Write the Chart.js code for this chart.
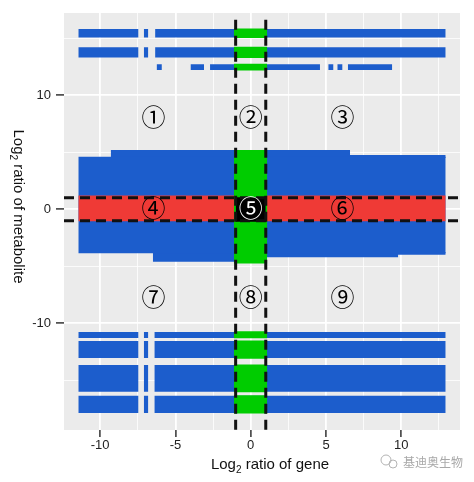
<!DOCTYPE html>
<html>
<head>
<meta charset="utf-8">
<script src="https://cdn.jsdelivr.net/npm/chart.js@4.4.0/dist/chart.umd.min.js"></script>
<style>
  html, body { margin: 0; padding: 0; background: #fff; }
</style>
</head>
<body>
<canvas id="grafico" width="474" height="482"></canvas>
<script>
// nove quadrantes: log2 gene (x) vs log2 metabolito (y)
const eixoX = [-12.4, 13.9]
const eixoY = [-19.35, 17.2]
const ticksX = [-10, -5, 0, 5, 10]
const ticksY = [-10, 0, 10]
const corteX = [-1, 1]
const corteY = [-1, 1]

// faixas de pontos: [xDe, xAte, yBaixo, yCima]
const azulTopo = [
  [-11.45, -7.45, 15.05, 15.8], [-7.1, -6.8, 15.05, 15.8], [-6.35, 12.95, 15.05, 15.8],
  [-11.45, -7.45, 13.3, 14.2], [-7.1, -6.8, 13.3, 14.2], [-6.35, 12.95, 13.3, 14.2],
  [-6.25, -5.9, 12.2, 12.7], [-4.0, -3.1, 12.2, 12.7], [-2.7, 4.6, 12.2, 12.7],
  [5.15, 5.5, 12.2, 12.7], [5.75, 6.1, 12.2, 12.7], [6.45, 9.4, 12.2, 12.7]
]
// bloco do meio (sobrepostos pra nao ficar costura)
const azulMeio = [
  [-11.45, 12.95, -3.85, 4.6],
  [-9.3, 6.6, 4.5, 5.2], [6.5, 12.95, 4.5, 4.75],
  [-6.5, -1, -4.6, -3.75], [0.9, 9.8, -4.2, -3.75], [9.7, 12.95, -4.0, -3.75]
]
const linhasBaixoY = [[-11.28, -10.75], [-13.05, -11.55], [-16.0, -13.65], [-17.85, -16.35]]
const linhasBaixoX = [[-11.45, -7.45], [-7.1, -6.8], [-6.4, 12.95]]
const vermelho = [[-11.45, 12.95, -1.05, 1.2]]
const verdeY = [[15.0, 15.85], [13.25, 14.25], [12.15, 12.75], [-4.75, 5.2],
  [-11.3, -10.7], [-13.1, -11.5], [-16.05, -13.6], [-17.9, -16.3]]
const verdeX = [-1.12, 1.1]
const preto = [[-1.0, 1.0, -1.1, 1.05]]

const rotulos = ['①', '②', '③', '④', '⑤', '⑥', '⑦', '⑧', '⑨']
const rotuloX = [-6.45, 0, 6.1]
const rotuloY = [8.1, 0.1, -7.7]

const AZUL = '#1c5dcc', VERMELHO = '#ef3a36', VERDE = '#00cc00', PRETO = '#000'

function faixa(b, cor, ordem) {
  return {
    data: [{ x: b[0], y: b[3] }, { x: b[1], y: b[3] }],
    borderColor: 'rgba(0,0,0,0)', borderWidth: 0, pointRadius: 0,
    backgroundColor: cor, fill: { value: b[2] }, order: ordem
  }
}

const datasets = []
azulTopo.forEach(b => datasets.push(faixa(b, AZUL, 6)))
azulMeio.forEach(b => datasets.push(faixa(b, AZUL, 6)))
linhasBaixoY.forEach(r => linhasBaixoX.forEach(s => datasets.push(faixa([s[0], s[1], r[0], r[1]], AZUL, 6))))
vermelho.forEach(b => datasets.push(faixa(b, VERMELHO, 5)))
verdeY.forEach(r => datasets.push(faixa([verdeX[0], verdeX[1], r[0], r[1]], VERDE, 4)))
preto.forEach(b => datasets.push(faixa(b, PRETO, 3)))

// linhas tracejadas de corte
corteX.forEach(v => datasets.push({
  data: [{ x: v, y: 16.6 }, { x: v, y: eixoY[0] }],
  borderColor: '#111', borderWidth: 3, borderDash: [10, 6], pointRadius: 0, fill: false, order: 1
}))
corteY.forEach(v => datasets.push({
  data: [{ x: eixoX[0], y: v }, { x: eixoX[1], y: v }],
  borderColor: '#111', borderWidth: 3, borderDash: [10, 6], pointRadius: 0, fill: false, order: 1
}))

const fundoPainel = {
  id: 'fundoPainel',
  beforeDraw(chart) {
    const { ctx, chartArea: a } = chart
    ctx.save()
    ctx.fillStyle = '#fff'
    ctx.fillRect(0, 0, chart.width, chart.height)
    ctx.fillStyle = '#ebebeb'
    ctx.fillRect(a.left, a.top, a.right - a.left, a.bottom - a.top)
    ctx.restore()
  },
  afterDraw(chart) {
    const { ctx, scales } = chart
    ctx.save()
    // numeros dos quadrantes
    ctx.font = '24px "Noto Sans CJK SC"'
    ctx.textAlign = 'center'
    ctx.textBaseline = 'middle'
    rotulos.forEach((t, i) => {
      const px = scales.x.getPixelForValue(rotuloX[i % 3])
      const py = scales.y.getPixelForValue(rotuloY[Math.floor(i / 3)])
      ctx.fillStyle = i === 4 ? '#fff' : '#000'
      ctx.fillText(t, px, py)
    })

    // titulos dos eixos com subscrito
    function titulo(antes, sub, depois) {
      ctx.font = '15px "Liberation Sans"'
      const w1 = ctx.measureText(antes).width
      const w3 = ctx.measureText(depois).width
      ctx.font = '10px "Liberation Sans"'
      const w2 = ctx.measureText(sub).width
      let x = -(w1 + w2 + w3) / 2
      ctx.textAlign = 'left'
      ctx.textBaseline = 'alphabetic'
      ctx.fillStyle = '#111'
      ctx.font = '15px "Liberation Sans"'
      ctx.fillText(antes, x, 0)
      ctx.font = '10px "Liberation Sans"'
      ctx.fillText(sub, x + w1, 4)
      ctx.font = '15px "Liberation Sans"'
      ctx.fillText(depois, x + w1 + w2, 0)
    }
    ctx.save()
    ctx.translate(270, 469)
    titulo('Log', '2', ' ratio of gene')
    ctx.restore()
    ctx.save()
    ctx.translate(13.5, 206.5)
    ctx.rotate(Math.PI / 2)
    titulo('Log', '2', ' ratio of metabolite')
    ctx.restore()

    // marca d'agua
    ctx.strokeStyle = '#b4b4b4'
    ctx.lineWidth = 1
    ctx.beginPath(); ctx.arc(386, 460, 5, 0, Math.PI * 2); ctx.stroke()
    ctx.beginPath(); ctx.arc(393, 464, 4, 0, Math.PI * 2); ctx.stroke()
    ctx.fillStyle = '#a8a8a8'
    ctx.font = '12px "Noto Sans CJK SC"'
    ctx.textAlign = 'left'
    ctx.textBaseline = 'middle'
    ctx.fillText('基迪奥生物', 403, 462)
    ctx.restore()
  }
}

const ehMaior = (v, passo) => Math.abs(v % passo) < 1e-6

new Chart(document.getElementById('grafico'), {
  type: 'line',
  data: { datasets },
  plugins: [fundoPainel],
  options: {
    responsive: false,
    animation: false,
    layout: { padding: { top: 13, right: 14, left: 0, bottom: 0 } },
    plugins: { legend: { display: false }, tooltip: { enabled: false } },
    scales: {
      x: {
        type: 'linear', min: eixoX[0], max: eixoX[1],
        afterFit: s => { s.height = 52 },
        border: { display: false },
        ticks: {
          stepSize: 2.5, includeBounds: false, autoSkip: false, maxRotation: 0, padding: 1,
          color: '#222', font: { family: 'Liberation Sans', size: 13 },
          callback: v => ticksX.includes(v) ? String(v) : ''
        },
        grid: {
          color: '#fff',
          lineWidth: c => ehMaior(c.tick.value, 5) ? 1.8 : 0.8,
          tickColor: c => ehMaior(c.tick.value, 5) ? '#333' : 'rgba(0,0,0,0)',
          tickLength: 7, tickWidth: 1.5
        }
      },
      y: {
        type: 'linear', min: eixoY[0], max: eixoY[1],
        afterFit: s => { s.width = 64 },
        border: { display: false },
        ticks: {
          stepSize: 5, includeBounds: false, autoSkip: false, padding: 5,
          color: '#222', font: { family: 'Liberation Sans', size: 13 },
          callback: v => ticksY.includes(v) ? String(v) : ''
        },
        grid: {
          color: '#fff',
          lineWidth: c => ehMaior(c.tick.value, 10) ? 1.8 : 0.8,
          tickColor: c => ehMaior(c.tick.value, 10) ? '#333' : 'rgba(0,0,0,0)',
          tickLength: 8, tickWidth: 1.5
        }
      }
    }
  }
})
</script>
</body>
</html>
